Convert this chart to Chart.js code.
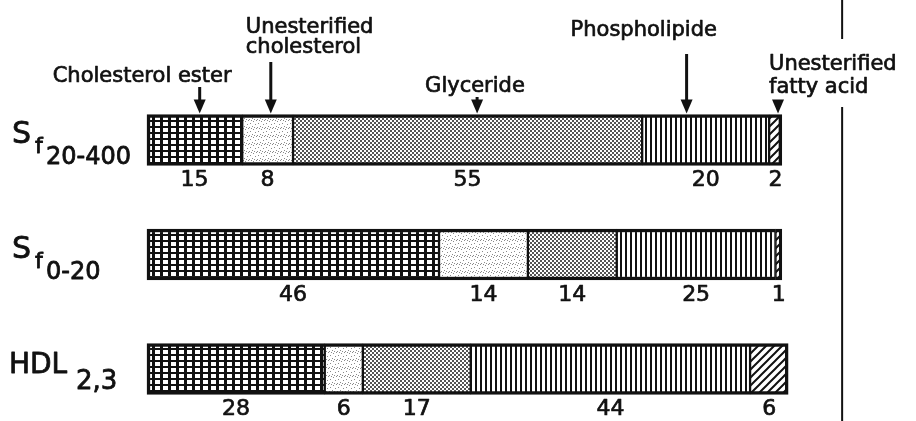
<!DOCTYPE html>
<html>
<head>
<meta charset="utf-8">
<script src="https://cdn.jsdelivr.net/npm/chart.js@4.4.1/dist/chart.umd.min.js"></script>
<style>
  html, body { margin: 0; padding: 0; background: #fff; }
  #wrap { width: 916px; height: 421px; }
</style>
</head>
<body>
<div id="wrap"><canvas id="lipidChart" width="916" height="421"></canvas></div>
<script>
// rows (lipoprotein classes), drawn top to bottom
const categoryParts = [['S', 'f', '20-400'], ['S', 'f', '0-20'], ['HDL', '2,3']];
const categories = categoryParts.map((p) => p.join(' '));

// percent composition, one array per component
const components = ['Cholesterol ester', 'Unesterified cholesterol', 'Glyceride', 'Phospholipide', 'Unesterified fatty acid'];
const cholesterolEster = [15, 46, 28];
const unesterifiedCholesterol = [8, 14, 6];
const glyceride = [55, 14, 17];
const phospholipide = [20, 25, 44];
const fattyAcid = [2, 1, 6];

const FONT = '"DejaVu Sans", sans-serif';
const INK = '#111';

// --- fill patterns (like the hatching of the printed figure) ---
function makeTile(w, h, draw) {
    const c = document.createElement('canvas');
    c.width = w;
    c.height = h;
    const g = c.getContext('2d');
    g.fillStyle = '#fff';
    g.fillRect(0, 0, w, h);
    g.fillStyle = INK;
    g.strokeStyle = INK;
    draw(g);
    return document.createElement('canvas').getContext('2d').createPattern(c, 'repeat');
}

const patterns = [
    // square grid
    makeTile(8, 6, (g) => {
        g.fillRect(0, 0, 8, 2);
        g.fillRect(0, 0, 3, 6);
    }),
    // light stipple
    makeTile(8, 8, (g) => {
        g.fillStyle = '#8a8a8a';
        [[0, 0], [5, 1], [2, 3], [7, 4], [4, 6], [1, 7], [6, 7], [3, 0]].forEach(([x, y]) => g.fillRect(x, y, 1, 1));
    }),
    // dense dots
    makeTile(4, 4, (g) => {
        g.fillStyle = '#555';
        g.fillRect(0, 0, 2, 2);
        g.fillRect(2, 2, 2, 2);
    }),
    // vertical lines
    makeTile(5, 4, (g) => {
        g.fillRect(0, 0, 2, 4);
    }),
    // diagonal hatch
    makeTile(8, 8, (g) => {
        g.lineWidth = 2;
        g.beginPath();
        g.moveTo(-2, 10);
        g.lineTo(10, -2);
        g.moveTo(-2, 2);
        g.lineTo(2, -2);
        g.moveTo(6, 10);
        g.lineTo(10, 6);
        g.stroke();
    }),
];

const seriesData = [cholesterolEster, unesterifiedCholesterol, glyceride, phospholipide, fattyAcid];

const datasets = seriesData.map((data, i) => ({
    label: components[i],
    data,
    backgroundColor: patterns[i],
    borderColor: INK,
    borderSkipped: false,
    borderWidth: {
        top: 3.5,
        bottom: 3.5,
        left: i === 0 ? 3.5 : 1.5,
        right: i === seriesData.length - 1 ? 3.5 : 1.5,
    },
    barThickness: 51,
    clip: false,
}));

// component names with arrows pointing at the first bar
const annotations = [
    { value: 8.3, lines: ['Cholesterol ester'], dx: -147, baselines: [82], arrowTop: 87 },
    { value: 19.5, lines: ['Unesterified', 'cholesterol'], dx: -25, baselines: [33, 53], arrowTop: 62 },
    { value: 52, lines: ['Glyceride'], dx: -52, baselines: [92], arrowTop: 97 },
    { value: 85, lines: ['Phospholipide'], dx: -116, baselines: [36], arrowTop: 54 },
    { value: 99.4, lines: ['Unesterified', 'fatty acid'], dx: -9, baselines: [70, 93], arrowTop: 100 },
];

function drawArrow(ctx, x, top, tip) {
    ctx.lineWidth = 3;
    ctx.beginPath();
    ctx.moveTo(x, top);
    ctx.lineTo(x, tip - 10);
    ctx.stroke();
    ctx.beginPath();
    ctx.moveTo(x - 6, tip - 14);
    ctx.lineTo(x + 6, tip - 14);
    ctx.lineTo(x, tip);
    ctx.closePath();
    ctx.fill();
}

// text with a thin outline so strokes look as heavy as the printed lettering
function inkText(ctx, text, x, y) {
    ctx.fillText(text, x, y);
    ctx.strokeText(text, x, y);
}

const figurePlugin = {
    id: 'figure',
    afterDatasetsDraw(chart) {
        const { ctx } = chart;
        const xScale = chart.scales.x;
        ctx.save();
        ctx.fillStyle = INK;
        ctx.strokeStyle = INK;
        ctx.lineJoin = 'round';

        // percent values under each segment
        ctx.font = `22px ${FONT}`;
        ctx.lineWidth = 0.7;
        ctx.textAlign = 'center';
        ctx.textBaseline = 'top';
        chart.data.datasets.forEach((ds, i) => {
            chart.getDatasetMeta(i).data.forEach((bar, j) => {
                const cx = (bar.x + bar.base) / 2;
                inkText(ctx, String(ds.data[j]), cx, bar.y + bar.height / 2 + 4);
            });
        });

        // row names with subscripts
        ctx.textAlign = 'left';
        ctx.textBaseline = 'alphabetic';
        const rowBars = chart.getDatasetMeta(0).data;
        categoryParts.forEach((parts, j) => {
            const y = rowBars[j].y;
            ctx.lineWidth = 0.8;
            if (parts.length === 3) {
                ctx.font = `30px ${FONT}`;
                inkText(ctx, parts[0], 12, y + 3);
                ctx.font = `22px ${FONT}`;
                inkText(ctx, parts[1], 35, y + 13);
                ctx.font = `24px ${FONT}`;
                inkText(ctx, parts[2], 46, y + 24);
            } else {
                ctx.font = `28px ${FONT}`;
                inkText(ctx, parts[0], 9, y + 4);
                ctx.font = `26px ${FONT}`;
                inkText(ctx, parts[1], 76, y + 20);
            }
        });

        // component labels and arrows above the first bar
        const firstBar = rowBars[0];
        const barTop = firstBar.y - firstBar.height / 2;
        ctx.font = `21px ${FONT}`;
        annotations.forEach((a) => {
            const x = xScale.getPixelForValue(a.value);
            ctx.lineWidth = 0.7;
            a.lines.forEach((line, k) => inkText(ctx, line, x + a.dx, a.baselines[k]));
            drawArrow(ctx, x, a.arrowTop, barTop - 1);
        });

        // vertical rule at the right, broken by the fatty acid label
        const rx = xScale.getPixelForValue(109.5);
        ctx.lineWidth = 2;
        ctx.beginPath();
        ctx.moveTo(rx, 0);
        ctx.lineTo(rx, 39);
        ctx.moveTo(rx, 107);
        ctx.lineTo(rx, chart.height);
        ctx.stroke();
        ctx.restore();
    },
};

new Chart(document.getElementById('lipidChart').getContext('2d'), {
    type: 'bar',
    data: { labels: categories, datasets },
    options: {
        indexAxis: 'y',
        responsive: false,
        devicePixelRatio: 1,
        animation: false,
        layout: { padding: { left: 147, right: 131, top: 140, bottom: 52 } },
        plugins: {
            legend: { display: false },
            tooltip: { enabled: false },
        },
        scales: {
            x: { stacked: true, min: 0, max: 100.5, display: false },
            y: { stacked: true, offset: false, display: false },
        },
    },
    plugins: [figurePlugin],
});
</script>
</body>
</html>
